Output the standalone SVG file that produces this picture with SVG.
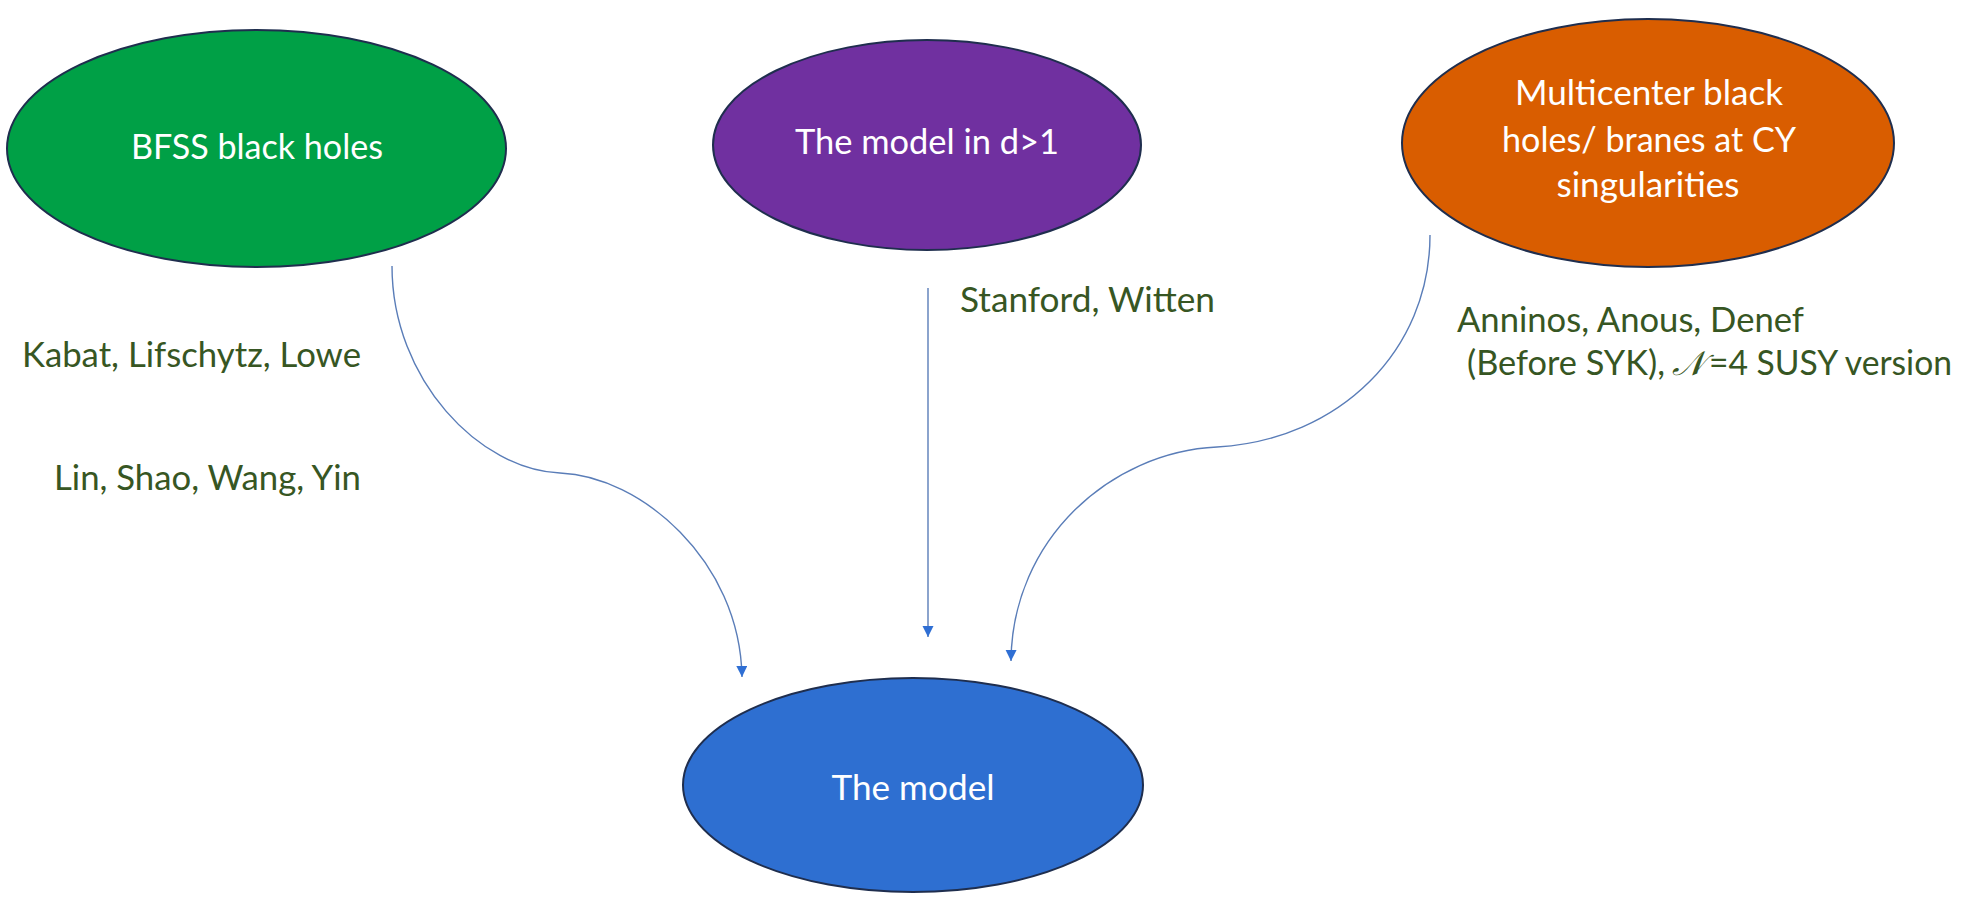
<svg xmlns="http://www.w3.org/2000/svg" width="1965" height="898" viewBox="0 0 1965 898">
  <style>
    .node { stroke: #1f2e4e; stroke-width: 2; }
    .ntext { font-family: Lato, "Open Sans", sans-serif; font-size: 34px; fill: #ffffff; text-anchor: middle; }
    .label { font-family: Lato, "Open Sans", sans-serif; font-size: 34px; fill: #375623; }
    .script { font-family: "DejaVu Serif", "DejaVu Sans", serif; font-style: italic; }
    .link { fill: none; stroke: #5a7db8; stroke-width: 1.4; }
  </style>
  <defs>
    <marker id="arrow" markerUnits="userSpaceOnUse" markerWidth="12" markerHeight="12" refX="11" refY="5.5" orient="auto">
      <path d="M0,0 L11,5.5 L0,11 z" fill="#2f6fd4"/>
    </marker>
  </defs>

  <rect width="1965" height="898" fill="#ffffff"/>

  <!-- connectors -->
  <g id="connectors">
    <path class="link" d="M392,266 C392,380 480,470 560,473 C640,476 740,560 742,677" marker-end="url(#arrow)"/>
    <path class="link" d="M928,288 L928,637" marker-end="url(#arrow)"/>
    <path class="link" d="M1430,235 C1430,350 1340,440 1217,447 C1110,452 1012,540 1011,661" marker-end="url(#arrow)"/>
  </g>

  <!-- source nodes -->
  <g id="bfss">
    <ellipse class="node" cx="256.5" cy="148.5" rx="249.5" ry="118.5" fill="#00a046"/>
    <text class="ntext" x="257" y="159" textLength="252" lengthAdjust="spacingAndGlyphs">BFSS black holes</text>
  </g>

  <g id="higher-d">
    <ellipse class="node" cx="927" cy="145" rx="214" ry="105" fill="#7030a0"/>
    <text class="ntext" x="927" y="154" textLength="264" lengthAdjust="spacingAndGlyphs">The model in d&gt;1</text>
  </g>

  <g id="multicenter">
    <ellipse class="node" cx="1648" cy="143" rx="246" ry="124" fill="#d95d00"/>
    <text class="ntext" x="1649" y="105" textLength="268" lengthAdjust="spacingAndGlyphs">Multicenter black</text>
    <text class="ntext" x="1649" y="152" textLength="294" lengthAdjust="spacingAndGlyphs">holes/ branes at CY</text>
    <text class="ntext" x="1648" y="197" textLength="183" lengthAdjust="spacingAndGlyphs">singularities</text>
  </g>

  <!-- target node -->
  <g id="model">
    <ellipse class="node" cx="913" cy="785" rx="230" ry="107" fill="#2e6fd1"/>
    <text class="ntext" x="913" y="800" textLength="163" lengthAdjust="spacingAndGlyphs">The model</text>
  </g>

  <!-- reference labels -->
  <g id="labels">
    <text class="label" x="361" y="367" text-anchor="end" textLength="339" lengthAdjust="spacingAndGlyphs">Kabat, Lifschytz, Lowe</text>
    <text class="label" x="361" y="490" text-anchor="end" textLength="307" lengthAdjust="spacingAndGlyphs">Lin, Shao, Wang, Yin</text>
    <text class="label" x="960" y="312" textLength="255" lengthAdjust="spacingAndGlyphs">Stanford, Witten</text>
    <text class="label" x="1457" y="332" textLength="347" lengthAdjust="spacingAndGlyphs">Anninos, Anous, Denef</text>
    <text class="label" y="375"><tspan x="1467" textLength="198" lengthAdjust="spacingAndGlyphs">(Before SYK),</tspan><tspan x="1672" class="script">𝒩</tspan><tspan x="1709" textLength="243" lengthAdjust="spacingAndGlyphs">=4 SUSY version</tspan></text>
  </g>
</svg>
